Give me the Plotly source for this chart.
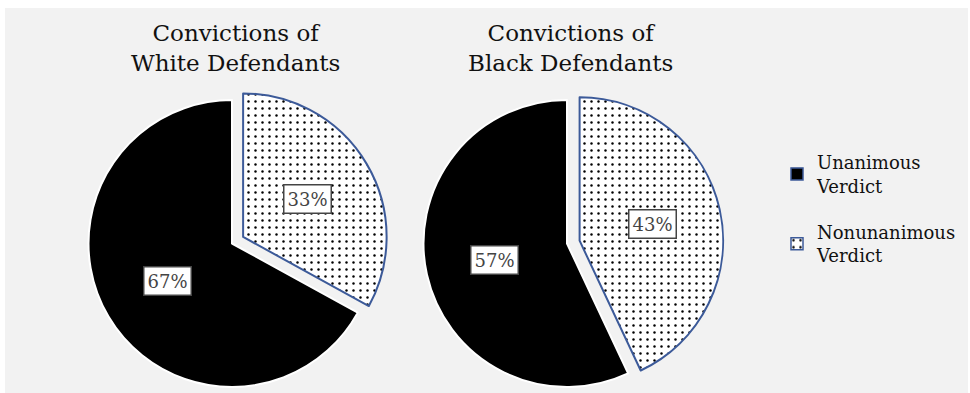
import math
import plotly.graph_objects as go

# --- data -------------------------------------------------------------
labels = ["Unanimous Verdict", "Nonunanimous Verdict"]
legend_text = ["Unanimous<br>Verdict", "Nonunanimous<br>Verdict"]
white_pct = [67, 33]
black_pct = [57, 43]
titles = ["Convictions of<br>White Defendants", "Convictions of<br>Black Defendants"]

# --- geometry (pixels) ------------------------------------------------
W, H = 970, 393
R = 143.5                 # pie radius
PULL = 0.09               # pulled-out share of the radius
CENTERS = [(232, 243.5), (567, 243.5)]
LABEL_FRAC = 0.52         # label distance from slice apex, fraction of R

FONT = "DejaVu Serif"
BLUE = "#3c5a99"
DOT_SIZE = 7


def px_domain(cx, cy, r):
    return dict(x=[(cx - r) / W, (cx + r) / W], y=[1 - (cy + r) / H, 1 - (cy - r) / H])


def paper(px, py):
    return px / W, 1 - py / H


fig = go.Figure()

# legend swatches: tiny pies tucked under the black slice of the first pie
for i, lab in enumerate(labels):
    fig.add_trace(go.Pie(
        labels=[legend_text[i]], values=[white_pct[i]], sort=False,
        domain=px_domain(CENTERS[0][0] - 60, CENTERS[0][1] + 40, 0.5),
        marker=dict(colors=["black" if i == 0 else "white"],
                    pattern=dict(shape=["" if i == 0 else "."], fgcolor="black",
                                 bgcolor=["black" if i == 0 else "white"],
                                 size=DOT_SIZE, solidity=0.1, fillmode="replace"),
                    line=dict(color=BLUE, width=1.5)),
        textinfo="none", hoverinfo="skip", legendgroup=f"g{i}", showlegend=True,
    ))

annotations = []
for k, (vals, title) in enumerate(zip([white_pct, black_pct], titles)):
    cx, cy = CENTERS[k]
    total = sum(vals)
    # first slice ends at 12 o'clock (left side); the second one is pulled out
    a_first = vals[0] / total * 360
    start = 360 - a_first                         # clockwise from top
    mid_first = start + a_first / 2
    mid_second = (360 - a_first) / 2
    ux, uy = math.sin(math.radians(mid_second)), -math.cos(math.radians(mid_second))
    ox, oy = ux * PULL * R, uy * PULL * R

    common = dict(labels=labels, values=vals, sort=False, direction="clockwise",
                  rotation=start, textinfo="none", hoverinfo="skip",
                  showlegend=False)
    # black slice at the centre
    fig.add_trace(go.Pie(
        domain=px_domain(cx, cy, R),
        marker=dict(colors=["black", "rgba(0,0,0,0)"],
                    line=dict(color=["white", "rgba(0,0,0,0)"], width=2)),
        **common,
    ))
    # dotted slice, displaced along its mid-angle
    fig.add_trace(go.Pie(
        domain=px_domain(cx + ox, cy + oy, R),
        marker=dict(colors=["rgba(0,0,0,0)", "white"],
                    pattern=dict(shape=["", "."], fgcolor="black",
                                 bgcolor=["rgba(0,0,0,0)", "white"],
                                 size=DOT_SIZE, solidity=0.1, fillmode="replace"),
                    line=dict(color=["rgba(0,0,0,0)", BLUE], width=2)),
        **common,
    ))

    # percentage labels in boxes
    d = LABEL_FRAC * R
    for ang, apex, v in [(mid_first, (cx, cy), vals[0]), (mid_second, (cx + ox, cy + oy), vals[1])]:
        lx = apex[0] + d * math.sin(math.radians(ang))
        ly = apex[1] - d * math.cos(math.radians(ang))
        x, y = paper(lx, ly)
        annotations.append(dict(
            x=x, y=y, xref="paper", yref="paper", xanchor="center", yanchor="middle",
            text=f"{v}%", showarrow=False,
            font=dict(family=FONT, size=18, color="#444"),
            bgcolor="white", bordercolor="#444", borderwidth=1.5, borderpad=3,
        ))

    tx, ty = paper(cx + 3, 47.5)
    annotations.append(dict(
        x=tx, y=ty, xref="paper", yref="paper", xanchor="center", yanchor="middle",
        text=title, showarrow=False,
        font=dict(family=FONT, size=23, color="#111"), align="center",
    ))

fig.update_layout(
    width=W, height=H, margin=dict(l=0, r=0, t=0, b=0),
    paper_bgcolor="white", plot_bgcolor="white",
    shapes=[dict(type="rect", xref="paper", yref="paper",
                 x0=5 / W, x1=968 / W, y0=0, y1=1 - 8 / H,
                 fillcolor="#f2f2f2", line=dict(width=0), layer="below")],
    annotations=annotations,
    legend=dict(x=777 / W, y=1 - 144 / H, xanchor="left", yanchor="top",
                font=dict(family=FONT, size=18, color="#111"),
                bgcolor="rgba(0,0,0,0)", traceorder="grouped", tracegroupgap=20),
)

fig.write_html("out.html")
